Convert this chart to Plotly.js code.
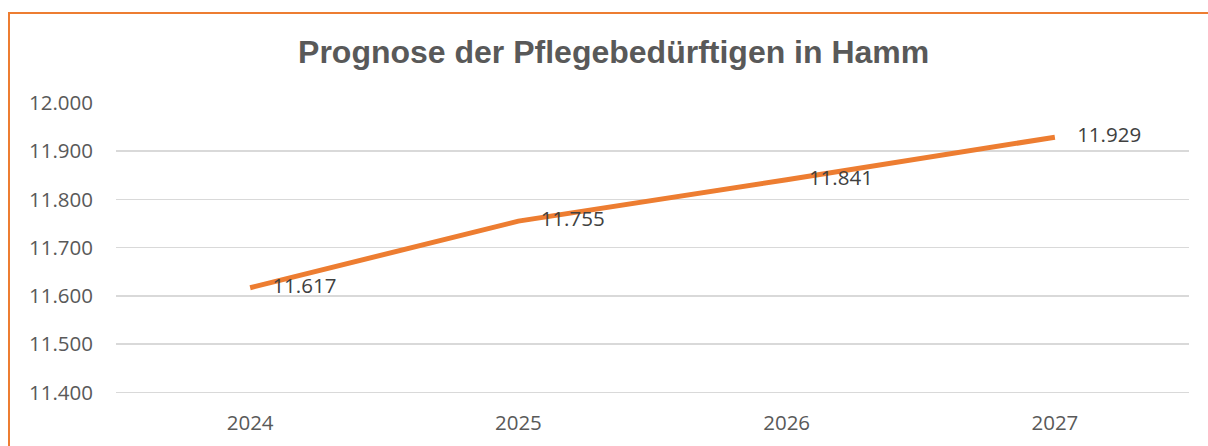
<!DOCTYPE html>
<html>
<head>
<meta charset="utf-8">
<script src="https://cdn.plot.ly/plotly-3.0.1.min.js"></script>
<style>
  html, body { margin: 0; padding: 0; background: #fff; overflow: hidden; }
  #chart { width: 1208px; height: 446px; position: absolute; left: 0; top: 0; }
  #frame { position: absolute; left: 8px; top: 12px; width: 1210px; height: 450px;
           border-left: 2px solid #ED7D31; border-top: 2px solid #ED7D31; pointer-events: none; }
</style>
</head>
<body>
<div id="chart"></div>
<div id="frame"></div>
<script>
const years = ['2024', '2025', '2026', '2027'];
const pflegebeduerftige = [11617, 11755, 11841, 11929];
const yTicks = [11400, 11500, 11600, 11700, 11800, 11900, 12000];

const trace = {
  x: years,
  y: pflegebeduerftige,
  type: 'scatter',
  mode: 'lines+markers+text',
  line: { color: '#ED7D31', width: 5 },
  marker: { size: 34, color: 'rgba(0,0,0,0)' },
  texttemplate: '%{y:,d}',
  textposition: 'middle right',
  textfont: { family: 'Open Sans, sans-serif', size: 20.5, color: '#404040' },
  hoverinfo: 'skip',
  cliponaxis: false
};

const layout = {
  width: 1208,
  height: 446,
  margin: { l: 116, r: 19, t: 103, b: 44 },
  paper_bgcolor: '#ffffff',
  plot_bgcolor: '#ffffff',
  separators: ',.',
  showlegend: false,
  title: {
    text: '<b>Prognose der Pflegebedürftigen in Hamm</b>',
    font: { family: 'Liberation Sans, Arial, sans-serif', size: 32, color: '#595959' },
    x: 0.508, xanchor: 'center',
    y: 1 - 52 / 446, yanchor: 'middle', yref: 'container'
  },
  xaxis: {
    type: 'category',
    range: [-0.5, 3.5],
    showgrid: false,
    zeroline: false,
    showline: false,
    ticks: '',
    tickfont: { family: 'Open Sans, sans-serif', size: 20.5, color: '#595959' },
    ticklabelstandoff: 6
  },
  yaxis: {
    range: [11380, 12000],
    tickvals: yTicks,
    tickformat: ',d',
    showgrid: true,
    gridcolor: '#D9D9D9',
    gridwidth: 1.5,
    zeroline: false,
    showline: false,
    ticks: '',
    tickfont: { family: 'Open Sans, sans-serif', size: 20.5, color: '#595959' },
    ticklabelstandoff: 22
  }
};

Plotly.newPlot('chart', [trace], layout, { staticPlot: true, displayModeBar: false });
</script>
</body>
</html>
